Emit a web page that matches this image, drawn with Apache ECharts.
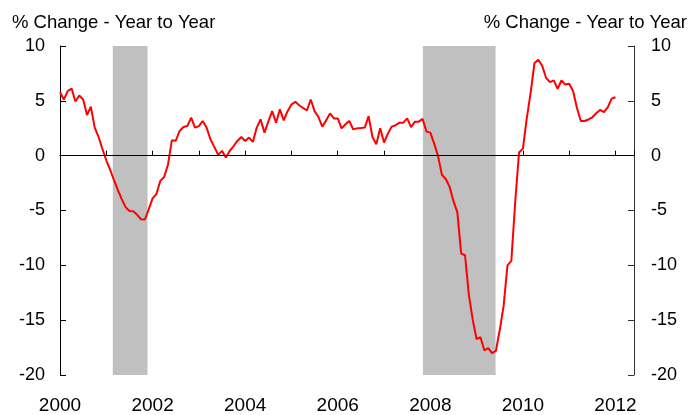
<!DOCTYPE html>
<html>
<head>
<meta charset="utf-8">
<script src="https://cdn.jsdelivr.net/npm/echarts@6/dist/echarts.min.js"></script>
<style>
html,body{margin:0;padding:0;background:#fff;}
#c{width:689px;height:415px;}
</style>
</head>
<body>
<div id="c"></div>
<script>
// Monthly % change, Jan 2000 .. Jan 2012
var startYear = 2000;
var v2000 = [5.78, 5.12, 5.88, 6.12, 4.94, 5.48, 5.12, 3.70, 4.46, 2.56, 1.72, 0.61];
var v2001 = [-0.42, -1.30, -2.24, -3.13, -3.96, -4.69, -5.04, -5.07, -5.39, -5.80, -5.82, -4.90];
var v2002 = [-3.90, -3.50, -2.30, -1.95, -0.80, 1.40, 1.35, 2.25, 2.61, 2.70, 3.46, 2.56];
var v2003 = [2.70, 3.16, 2.56, 1.50, 0.80, 0.07, 0.44, -0.16, 0.44, 0.88, 1.34, 1.70];
var v2004 = [1.34, 1.65, 1.25, 2.56, 3.31, 2.10, 3.10, 4.06, 3.01, 4.22, 3.22, 4.06];
var v2005 = [4.67, 4.91, 4.60, 4.35, 4.12, 5.12, 4.06, 3.52, 2.65, 3.22, 3.85, 3.40];
var v2006 = [3.40, 2.49, 2.86, 3.16, 2.40, 2.49, 2.52, 2.56, 3.61, 1.70, 1.04, 2.49];
var v2007 = [1.20, 2.01, 2.65, 2.77, 3.01, 3.01, 3.40, 2.61, 3.10, 3.10, 3.35, 2.19];
var v2008 = [2.10, 1.10, -0.02, -1.74, -2.13, -2.83, -4.15, -5.15, -8.93, -9.08, -12.71, -14.98];
var v2009 = [-16.73, -16.55, -17.75, -17.54, -18.00, -17.80, -15.90, -13.70, -10.00, -9.60, -4.25, 0.29];
var v2010 = [0.64, 3.40, 5.73, 8.45, 8.75, 8.20, 7.10, 6.71, 6.87, 6.10, 6.85, 6.48];
var v2011 = [6.55, 5.90, 4.37, 3.16, 3.16, 3.30, 3.50, 3.87, 4.17, 3.97, 4.40, 5.20];
var v2012 = [5.33];

// Recession periods (shaded), as fractional years
var recessions = [[2001.14, 2001.89], [2007.84, 2009.41]];

// Axis ticks
var yTicks = [-20, -15, -10, -5, 0, 5, 10];
var xLabelYears = [2000, 2002, 2004, 2006, 2008, 2010, 2012];
var axisTitle = '% Change - Year to Year';

var values = [].concat(v2000, v2001, v2002, v2003, v2004, v2005, v2006, v2007, v2008, v2009, v2010, v2011, v2012);
var lineData = values.map(function (v, i) { return [startYear + i / 12, v]; });

var font = "'Liberation Sans', Arial, sans-serif";
var chart = echarts.init(document.getElementById('c'), null, {renderer: 'canvas'});
chart.setOption({
  animation: false,
  backgroundColor: '#fff',
  title: [
    {text: axisTitle, left: 7, top: 8, textStyle: {fontFamily: font, fontSize: 18.5, fontWeight: 'normal', color: '#000'}},
    {text: axisTitle, right: -3, top: 8, textStyle: {fontFamily: font, fontSize: 18.5, fontWeight: 'normal', color: '#000'}}
  ],
  grid: {left: 60, right: 55, top: 46, bottom: 38, containLabel: false},
  xAxis: [{
    type: 'value', min: 2000, max: 2012.4, interval: 1,
    axisLine: {show: true, lineStyle: {color: '#000', width: 1}},
    axisTick: {show: true, inside: true, length: 5, lineStyle: {color: '#000'}},
    splitLine: {show: false},
    axisLabel: {
      margin: 21, fontFamily: font, fontSize: 19, color: '#000',
      formatter: function (v) { return xLabelYears.indexOf(v) >= 0 ? String(v) : ''; }
    }
  }, {
    type: 'value', position: 'top', min: 2000, max: 2012.4,
    axisLine: {show: true, lineStyle: {color: '#808080', width: 1}},
    axisTick: {show: false}, axisLabel: {show: false}, splitLine: {show: false}
  }],
  yAxis: [{
    type: 'value', min: yTicks[0], max: yTicks[yTicks.length - 1], interval: 5, position: 'left',
    axisLine: {show: true, lineStyle: {color: '#000', width: 1}},
    axisTick: {show: true, inside: true, length: 6, lineStyle: {color: '#000'}},
    splitLine: {show: false},
    axisLabel: {margin: 15, fontFamily: font, fontSize: 18, color: '#000'}
  }, {
    type: 'value', min: yTicks[0], max: yTicks[yTicks.length - 1], interval: 5, position: 'right',
    axisLine: {show: true, lineStyle: {color: '#333', width: 1}},
    axisTick: {show: true, inside: true, length: 6, lineStyle: {color: '#333'}},
    splitLine: {show: false},
    axisLabel: {margin: 17, fontFamily: font, fontSize: 18, color: '#000'}
  }],
  series: [{
    type: 'line', data: [], z: 1, silent: true,
    markArea: {
      silent: true,
      itemStyle: {color: '#c0c0c0', opacity: 1},
      data: recessions.map(function (r) { return [{xAxis: r[0]}, {xAxis: r[1]}]; })
    }
  }, {
    type: 'line', data: [], z: 2, silent: true,
    markLine: {
      silent: true, symbol: ['none', 'none'], label: {show: false},
      lineStyle: {color: '#000', width: 1, type: 'solid'},
      data: [{yAxis: 0}]
    }
  }, {
    type: 'line', data: lineData, z: 3,
    showSymbol: false, symbol: 'none',
    lineStyle: {color: '#ff0000', width: 2},
    itemStyle: {color: '#ff0000'}
  }]
});
</script>
</body>
</html>
